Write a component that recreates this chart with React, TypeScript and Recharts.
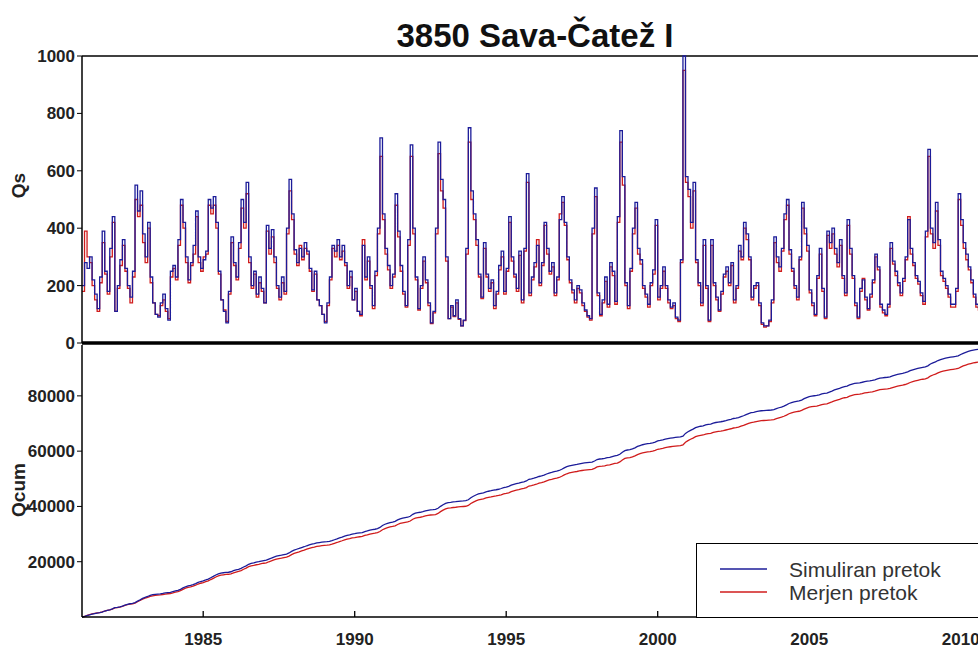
import React from "react";
import { LineChart, Line, XAxis, YAxis, ReferenceLine } from "recharts";

// monthly flows, one row per year 1981..2010
const simYears = [
  [200, 280, 260, 300, 220, 170, 120, 230, 390, 250, 180, 330],
  [440, 110, 200, 290, 360, 260, 200, 160, 250, 550, 460, 530],
  [380, 300, 420, 230, 140, 100, 90, 140, 170, 120, 80, 250],
  [270, 230, 360, 500, 420, 300, 220, 280, 340, 460, 300, 260],
  [290, 320, 500, 470, 510, 420, 250, 150, 110, 70, 180, 370],
  [280, 230, 350, 500, 420, 560, 300, 200, 250, 170, 230, 190],
  [140, 410, 330, 395, 300, 200, 160, 230, 180, 400, 570, 450],
  [325, 280, 330, 300, 350, 320, 260, 185, 250, 150, 130, 100],
  [70, 140, 230, 340, 320, 360, 300, 340, 280, 200, 250, 150],
  [190, 110, 100, 340, 230, 300, 200, 130, 250, 400, 715, 450],
  [330, 270, 200, 240, 520, 390, 270, 180, 130, 360, 690, 400],
  [230, 120, 200, 300, 220, 140, 70, 110, 400, 700, 570, 500],
  [300, 85, 130, 95, 150, 85, 60, 80, 330, 750, 530, 450],
  [360, 240, 160, 350, 240, 190, 220, 130, 180, 270, 320, 180],
  [260, 440, 300, 240, 190, 320, 150, 330, 590, 175, 230, 280],
  [340, 210, 280, 420, 330, 250, 280, 175, 230, 430, 510, 420],
  [300, 220, 185, 150, 200, 185, 140, 115, 95, 85, 400, 540],
  [175, 100, 150, 230, 135, 280, 250, 145, 440, 740, 580, 210],
  [130, 260, 400, 490, 330, 290, 200, 170, 135, 210, 255, 430],
  [160, 200, 265, 200, 150, 125, 140, 90, 80, 290, 1000, 580],
  [535, 420, 560, 290, 210, 140, 360, 200, 80, 360, 210, 160],
  [115, 180, 240, 265, 210, 280, 150, 200, 340, 300, 420, 380],
  [300, 160, 200, 210, 140, 70, 60, 60, 80, 150, 370, 300],
  [265, 330, 450, 500, 325, 260, 200, 160, 300, 490, 400, 340],
  [185, 140, 100, 235, 330, 190, 90, 390, 350, 400, 330, 280],
  [360, 235, 175, 430, 330, 235, 140, 90, 190, 220, 160, 120],
  [170, 220, 310, 265, 135, 115, 100, 135, 350, 285, 250, 210],
  [175, 225, 300, 430, 330, 280, 235, 215, 175, 145, 390, 675],
  [400, 350, 490, 360, 250, 225, 200, 170, 135, 135, 190, 520],
  [430, 350, 310, 265, 220, 170, 135, 125, 190, 270, 290, 240],
];

const merYears = [
  [180, 390, 300, 280, 200, 150, 110, 210, 350, 240, 170, 300],
  [420, 110, 190, 270, 340, 250, 190, 140, 230, 500, 440, 480],
  [350, 280, 400, 210, 140, 100, 95, 130, 150, 110, 85, 230],
  [260, 220, 340, 480, 400, 280, 210, 270, 310, 440, 280, 250],
  [300, 310, 480, 450, 480, 400, 240, 150, 115, 75, 170, 350],
  [270, 220, 330, 470, 400, 520, 280, 190, 240, 160, 210, 180],
  [140, 390, 310, 370, 280, 190, 150, 210, 170, 380, 530, 430],
  [310, 270, 340, 290, 330, 310, 250, 180, 240, 150, 130, 100],
  [75, 130, 220, 330, 300, 340, 290, 320, 270, 190, 230, 150],
  [180, 110, 95, 360, 220, 285, 190, 120, 235, 380, 650, 430],
  [310, 255, 190, 230, 480, 370, 250, 170, 125, 340, 650, 380],
  [220, 115, 190, 285, 210, 130, 68, 105, 380, 660, 530, 470],
  [285, 85, 125, 92, 140, 82, 60, 78, 310, 700, 500, 430],
  [340, 230, 155, 330, 230, 180, 210, 120, 170, 255, 300, 170],
  [250, 420, 285, 230, 180, 305, 140, 320, 560, 165, 220, 265],
  [360, 200, 270, 410, 310, 240, 265, 165, 220, 450, 490, 410],
  [290, 210, 175, 140, 190, 175, 130, 110, 90, 80, 380, 510],
  [165, 95, 140, 215, 125, 265, 235, 135, 420, 700, 550, 200],
  [120, 250, 380, 470, 310, 275, 190, 160, 125, 200, 240, 410],
  [150, 190, 250, 190, 140, 120, 130, 85, 75, 280, 950, 560],
  [510, 400, 530, 280, 200, 130, 340, 190, 75, 340, 200, 150],
  [110, 170, 230, 250, 200, 270, 140, 190, 320, 290, 400, 360],
  [290, 150, 190, 200, 130, 65, 55, 60, 75, 140, 350, 280],
  [250, 320, 430, 480, 310, 250, 190, 150, 290, 470, 380, 320],
  [175, 130, 95, 225, 310, 180, 85, 375, 330, 380, 310, 265],
  [340, 225, 165, 410, 310, 225, 130, 85, 180, 225, 150, 115],
  [160, 210, 300, 255, 125, 105, 95, 125, 330, 275, 235, 200],
  [165, 215, 290, 440, 310, 270, 225, 205, 165, 135, 370, 650],
  [380, 330, 460, 340, 235, 215, 190, 160, 125, 125, 180, 500],
  [410, 330, 290, 255, 210, 160, 125, 115, 180, 260, 280, 230],
];

const startYear = 1981;
const yearTicks = [1985, 1990, 1995, 2000, 2005, 2010];
const qsTicks = [0, 200, 400, 600, 800, 1000];
const cumTicks = [20000, 40000, 60000, 80000];

const sim = simYears.flat();
const mer = merYears.flat();

const monthly = sim.map((v, i) => ({
  t: startYear + i / 12,
  sim: v,
  mer: mer[i],
}));

const cumulative = [{ t: startYear, sim: 0, mer: 0 }];
sim.forEach((v, i) => {
  const prev = cumulative[i];
  cumulative.push({
    t: startYear + (i + 1) / 12,
    sim: prev.sim + v,
    mer: prev.mer + mer[i],
  });
});

const SIM_COLOR = "#1c1c99";
const MER_COLOR = "#d01c1c";
const FONT = '"Liberation Sans", Arial, sans-serif';
const tickStyle = { fontSize: 17, fontWeight: 700, fill: "#222", fontFamily: FONT };

const YearTick = (props: any) => {
  const { x, y, payload } = props;
  return (
    <g>
      <line x1={x} x2={x} y1={y} y2={y - 6} stroke="#000" strokeWidth={1.3} />
      <text x={x} y={y + 28} textAnchor="middle" {...tickStyle}>
        {payload.value}
      </text>
    </g>
  );
};

const AxisLabel = (props: any) => {
  const { viewBox, value, shift } = props;
  const cx = 18;
  const cy = viewBox.y + viewBox.height / 2 + shift;
  return (
    <text
      x={cx}
      y={cy}
      transform={`rotate(-90, ${cx}, ${cy})`}
      textAnchor="middle"
      dominantBaseline="central"
      fontSize={19}
      fontWeight={700}
      fill="#222"
      fontFamily={FONT}
    >
      {value}
    </text>
  );
};

const LegendBox = () => (
  <div
    style={{
      position: "absolute",
      left: 696,
      top: 543,
      width: 320,
      height: 75,
      border: "1px solid #000",
      background: "#fff",
      fontFamily: FONT,
      fontSize: 21,
      color: "#333",
      boxSizing: "border-box",
      paddingTop: 14,
    }}
  >
    {[
      { name: "Simuliran pretok", color: SIM_COLOR },
      { name: "Merjen pretok", color: MER_COLOR },
    ].map((it) => (
      <div key={it.name} style={{ display: "flex", alignItems: "center", height: 23 }}>
        <svg width={92} height={10} style={{ flex: "none" }}>
          <line x1={23} x2={70} y1={4} y2={4} stroke={it.color} strokeWidth={1.5} />
        </svg>
        <span>{it.name}</span>
      </div>
    ))}
  </div>
);

const App = () => {
  return (
    <div
      style={{
        position: "absolute",
        left: 0,
        top: 0,
        width: 978,
        height: 648,
        overflow: "hidden",
        background: "#fff",
        fontFamily: FONT,
      }}
    >
      <div
        style={{
          position: "absolute",
          left: 82,
          width: 906,
          top: 19,
          textAlign: "center",
          fontSize: 33,
          lineHeight: "33px",
          fontWeight: 700,
          color: "#111",
        }}
      >
        3850 Sava-Čatež I
      </div>

      <div style={{ position: "absolute", left: 0, top: 343 }}>
        <LineChart
          width={995}
          height={305}
          data={cumulative}
          margin={{ top: 2, right: 4, bottom: 0, left: 0 }}
        >
          <XAxis
            dataKey="t"
            type="number"
            domain={[1981, 2011]}
            ticks={yearTicks}
            interval={0}
            height={31}
            tickSize={0}
            tickMargin={0}
            tickLine={false}
            tick={<YearTick />}
            axisLine={{ stroke: "#000", strokeWidth: 1.5 }}
          />
          <YAxis
            width={82}
            domain={[0, 98400]}
            ticks={cumTicks}
            interval={0}
            tick={tickStyle}
            tickSize={5}
            tickMargin={2}
            tickLine={{ stroke: "#000" }}
            axisLine={{ stroke: "#000", strokeWidth: 1.5 }}
            label={<AxisLabel value="Qcum" shift={9} />}
          />
          <Line
            type="linear"
            dataKey="mer"
            stroke={MER_COLOR}
            strokeWidth={1.3}
            dot={false}
            isAnimationActive={false}
          />
          <Line
            type="linear"
            dataKey="sim"
            stroke={SIM_COLOR}
            strokeWidth={1.3}
            dot={false}
            isAnimationActive={false}
          />
        </LineChart>
      </div>

      <div style={{ position: "absolute", left: 0, top: 0 }}>
        <LineChart
          width={995}
          height={362}
          data={monthly}
          margin={{ top: 56, right: 4, bottom: 19, left: 0 }}
        >
          <XAxis dataKey="t" type="number" domain={[1981, 2011]} hide />
          <YAxis
            width={82}
            domain={[0, 1000]}
            ticks={qsTicks}
            interval={0}
            tick={tickStyle}
            tickSize={5}
            tickMargin={2}
            tickLine={{ stroke: "#000" }}
            axisLine={{ stroke: "#000", strokeWidth: 1.5 }}
            label={<AxisLabel value="Qs" shift={-14} />}
          />
          <ReferenceLine y={1000} stroke="#000" strokeWidth={1.5} />
          <Line
            type="stepAfter"
            dataKey="mer"
            stroke={MER_COLOR}
            strokeWidth={1.3}
            dot={false}
            isAnimationActive={false}
          />
          <Line
            type="stepAfter"
            dataKey="sim"
            stroke={SIM_COLOR}
            strokeWidth={1.3}
            dot={false}
            isAnimationActive={false}
          />
          <ReferenceLine y={0} stroke="#000" strokeWidth={3.5} />
        </LineChart>
      </div>

      <LegendBox />
    </div>
  );
};

export default App;
